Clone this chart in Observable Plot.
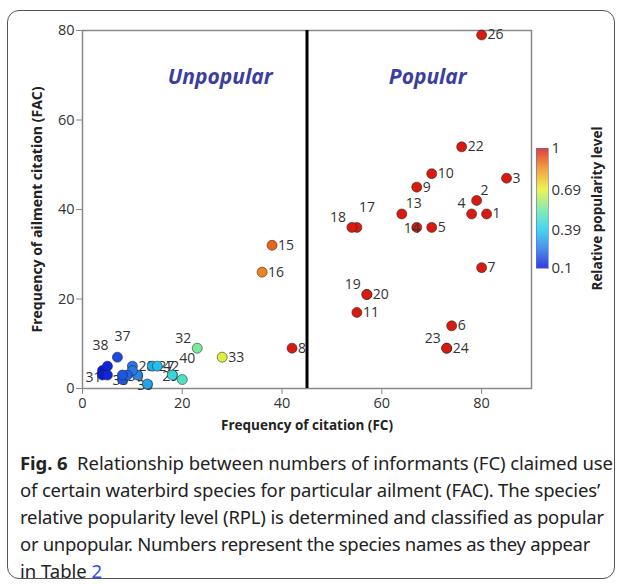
<!DOCTYPE html>
<html>
<head>
<meta charset="utf-8">
<script src="https://cdn.jsdelivr.net/npm/d3@7"></script>
<script src="https://cdn.jsdelivr.net/npm/@observablehq/plot@0.6"></script>
<style>
  html, body { margin: 0; padding: 0; background: #fff; }
  body { width: 624px; height: 584px; position: relative; overflow: hidden; font-family: "Open Sans", sans-serif; }
  #box { position: absolute; left: 7px; top: 10px; width: 608px; height: 569px; border: 1.3px solid #555; border-radius: 12px; box-sizing: border-box; }
  #main { position: absolute; left: 0; top: 0; }
  #legend { position: absolute; left: 520px; top: 103px; }
  #caption { position: absolute; left: 20px; top: 449px; width: 600px; font-family: "Noto Sans", sans-serif; font-size: 18.5px; line-height: 27px; color: #222; }
  #caption div { white-space: nowrap; display: block; width: max-content; }
  #caption b { font-weight: 700; }
  #caption .ref { color: #2a50e0; }
</style>
</head>
<body>
<div id="box"></div>
<div id="main"></div>
<div id="legend"></div>
<div id="caption">
  <div id="l1" data-w="593"><b>Fig. 6</b>&nbsp; Relationship between numbers of informants (FC) claimed use</div>
  <div id="l2" data-w="580">of certain waterbird species for particular ailment (FAC). The species’</div>
  <div id="l3" data-w="584">relative popularity level (RPL) is determined and classified as popular</div>
  <div id="l4" data-w="570">or unpopular. Numbers represent the species names as they appear</div>
  <div id="l5">in Table <span class="ref">2</span></div>
</div>
<script>
// ---- data ----
const ids      = ["1","2","3","4","5","6","7","8","9","10","11","13","14","15","16","17","18","19","20","22","23","24","26",
                  "27","28","29","30","31","32","33","35","37","38","39","40","42","12","21","25","36","41"];
const fc       = [81,79,85,78,70,74,80,42,67,70,55,64,67,38,36,55,54,57,57,76,73,73,80,
                  14,10,18,11,4,23,28,8,7,5,13,20,15,4,10,9,8,5];
const fac      = [39,42,47,39,36,14,27,9,45,48,17,39,36,32,26,36,36,21,21,54,9,9,79,
                  5,5,3,3,4,9,7,2,7,5,1,2,5,3,4,3,3,3];
const rpl      = [1,1,1,1,1,1,1,1,1,1,1,1,1,0.9,0.86,1,1,1,1,1,1,1,1,
                  0.33,0.24,0.43,0.26,0.1,0.55,0.67,0.19,0.17,0.12,0.31,0.48,0.36,0.1,0.24,0.21,0.19,0.12];
const labelPos = ["r","ur","r","ul","r","r","r","r","r","r","r","ur","on","r","r","uu","ul","ul","r","r","ul","r","r",
                  "r","r","c","c","bl","ul","r","c","u","uL","c","u","r","none","none","none","none","none"];

const regionNames = ["Unpopular", "Popular"];
const regionFC    = [27.6, 69.2];
const regionFAC   = [69.5, 69.5];

const xTicks = [0, 20, 40, 60, 80];
const yTicks = [0, 20, 40, 60, 80];
const cutFC = [45];

const colorDomain = [0.1, 0.25, 0.39, 0.54, 0.69, 0.85, 1];
const colorRange  = ["#0a1ad8", "#2a7ee8", "#20d0f0", "#70eaa0", "#eef030", "#f08a20", "#d81a10"];
const legendTicks = [0.1, 0.39, 0.69, 1];

// ---- build ----
const data = ids.map((id, i) => ({id, fc: fc[i], fac: fac[i], rpl: rpl[i], pos: labelPos[i]}));
const regions = regionNames.map((n, i) => ({n, x: regionFC[i], y: regionFAC[i]}));

const place = {
  r:  {dx: 6,  dy: 0,   textAnchor: "start"},
  ul: {dx: -6, dy: -10, textAnchor: "end"},
  ur: {dx: 4,  dy: -10, textAnchor: "start"},
  uu: {dx: 2,  dy: -20, textAnchor: "start"},
  u:  {dx: 5,  dy: -21, textAnchor: "middle"},
  uL: {dx: -7, dy: -21, textAnchor: "middle"},
  c:  {dx: -2, dy: 1,   textAnchor: "middle"},
  bl: {dx: -1, dy: 7,   textAnchor: "end"},
  on: {dx: 3,  dy: 1,   textAnchor: "end"}
};
const labelMarks = (keys) => keys.map(k => Plot.text(data.filter(d => d.pos === k), {
  x: "fc", y: "fac", text: "id", fill: "#333", fontSize: 14, ...place[k]
}));

const colorOpts = {type: "linear", domain: colorDomain, range: colorRange, interpolate: "rgb"};

const main = Plot.plot({
  width: 624, height: 440,
  marginLeft: 82, marginRight: 93, marginTop: 30, marginBottom: 52,
  style: {fontFamily: "Open Sans, sans-serif", fontSize: "14px", color: "#333", background: "transparent"},
  x: {domain: [0, 90], label: null},
  y: {domain: [0, 80], label: null},
  color: colorOpts,
  marks: [
    Plot.frame({stroke: "#888", strokeWidth: 1.5}),
    Plot.axisX({ticks: xTicks, tickSize: 6, tickPadding: 3, stroke: "#888", fill: "#333", fontSize: 14.5, label: null}),
    Plot.axisY({ticks: yTicks, tickSize: 6, tickPadding: 2, stroke: "#888", fill: "#333", fontSize: 14.5, label: null}),
    Plot.ruleX(cutFC, {stroke: "#000", strokeWidth: 3}),
    Plot.text(regions, {x: "x", y: "y", text: "n", fill: "#3b3ea0", fontSize: 21, fontWeight: "bold", fontStyle: "italic"}),
    ...labelMarks(["r","ul","ur","uu","u","uL","c","bl"]),
    Plot.dot(data, {x: "fc", y: "fac", r: 5, fill: d => d.rpl, stroke: "#222", strokeOpacity: 0.55, strokeWidth: 1}),
    ...labelMarks(["on"]),
    Plot.text(["Frequency of citation (FC)"], {frameAnchor: "bottom", dy: 41, fontWeight: "bold", fontSize: 13.5, fill: "#222"}),
    Plot.text(["Frequency of ailment citation (FAC)"], {frameAnchor: "left", textAnchor: "middle", dx: -45, rotate: -90, fontWeight: "bold", fontSize: 14, fill: "#222"})
  ]
});
document.getElementById("main").appendChild(main);

// legend: vertical colour bar built from the same scale
const steps = d3.range(0.1, 1, 0.0025).map(v => ({v0: v, v1: Math.min(1, v + 0.0035)}));
const legend = Plot.plot({
  width: 100, height: 220,
  marginLeft: 16, marginRight: 72, marginTop: 45, marginBottom: 55,
  style: {fontFamily: "Open Sans, sans-serif", fontSize: "15px", color: "#333", background: "transparent"},
  x: {domain: [0, 1], axis: null},
  y: {domain: [0.1, 1], axis: null},
  color: colorOpts,
  marks: [
    Plot.rectY(steps, {x1: 0, x2: 1, y1: "v0", y2: "v1", fill: "v0"}),
    Plot.frame({stroke: "#6a6ac0", strokeOpacity: 0.6}),
    Plot.axisY({anchor: "right", ticks: legendTicks, tickSize: 0, tickPadding: 3, fill: "#333", fontSize: 15, label: null,
                tickFormat: d => d === 1 ? "1" : String(d)}),
    Plot.text(["Relative popularity level"], {frameAnchor: "right", textAnchor: "middle", dx: 49, rotate: -90, fontWeight: "bold", fontSize: 13.5, fill: "#222"})
  ]
});
document.getElementById("legend").appendChild(legend);

// fit caption lines to the widths seen in the reference
document.querySelectorAll("#caption div[data-w]").forEach(el => {
  const target = +el.dataset.w;
  const w = el.getBoundingClientRect().width;
  const n = el.textContent.length;
  el.style.letterSpacing = ((target - w) / n) + "px";
});
</script>
</body>
</html>
